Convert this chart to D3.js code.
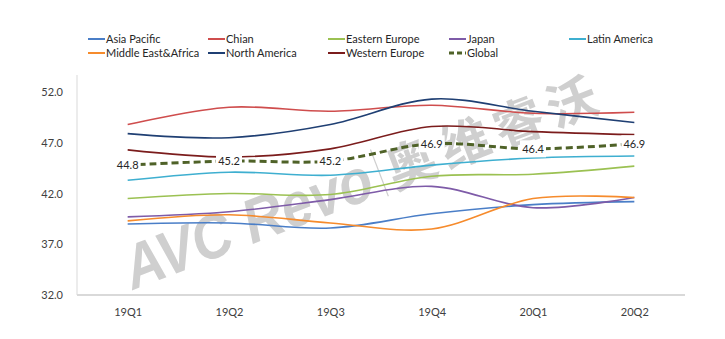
<!DOCTYPE html>
<html>
<head>
<meta charset="utf-8">
<script src="https://cdn.jsdelivr.net/npm/d3@7"></script>
<style>
  html, body { margin: 0; padding: 0; background: #ffffff; }
  svg { display: block; }
</style>
</head>
<body>
<svg id="chart" width="725" height="339"></svg>
<script>
// Quarterly index by region
const quarters = ["19Q1", "19Q2", "19Q3", "19Q4", "20Q1", "20Q2"];
const asiaPacific   = [39.0, 39.1, 38.6, 40.0, 40.9, 41.2];
const chian         = [48.8, 50.5, 50.1, 50.7, 49.9, 50.0];
const easternEurope = [41.5, 42.0, 41.9, 43.7, 43.9, 44.7];
const japan         = [39.7, 40.2, 41.4, 42.7, 40.6, 41.6];
const latinAmerica  = [43.3, 44.1, 43.8, 44.8, 45.5, 45.7];
const middleEast    = [39.3, 39.9, 39.1, 38.5, 41.5, 41.6];
const northAmerica  = [47.9, 47.5, 48.8, 51.3, 50.1, 49.0];
const westernEurope = [46.3, 45.6, 46.4, 48.6, 48.1, 47.8];
const globalAvg     = [44.8, 45.2, 45.2, 46.9, 46.4, 46.9];
const yTicks = [32, 37, 42, 47, 52];

const series = [
  { name: "Asia Pacific",       values: asiaPacific,   color: "#4a7ec7" },
  { name: "Chian",              values: chian,         color: "#cf4d4d" },
  { name: "Eastern Europe",     values: easternEurope, color: "#9bc152" },
  { name: "Japan",              values: japan,         color: "#7e5ba8" },
  { name: "Latin America",      values: latinAmerica,  color: "#3eafd0" },
  { name: "Middle East&Africa", values: middleEast,    color: "#f68b2c" },
  { name: "North America",      values: northAmerica,  color: "#1f3f73" },
  { name: "Western Europe",     values: westernEurope, color: "#7b1c1c" },
  { name: "Global",             values: globalAvg,     color: "#4f6228", dashed: true }
];

const svg = d3.select("#chart");
const font = "Lato, 'Liberation Sans', sans-serif";

const plotLeft = 77, plotRight = 685, plotTop = 92, plotBottom = 295;
const x = d3.scalePoint().domain(quarters).range([plotLeft, plotRight]).padding(0.5);
const y = d3.scaleLinear().domain([32, 52]).range([plotBottom, plotTop]);

// Watermark
const wm = svg.append("g")
  .attr("transform", "translate(133,290) rotate(-21)")
  .attr("fill", "#cfcfcf");
wm.append("text")
  .attr("x", 0).attr("y", 0)
  .attr("font-family", "'Liberation Sans', Arial, sans-serif")
  .attr("font-weight", "bold").attr("font-style", "italic")
  .attr("font-size", 62)
  .attr("textLength", 262).attr("lengthAdjust", "spacingAndGlyphs")
  .text("AVC Revo");
wm.append("line")
  .attr("x1", 272).attr("x2", 272).attr("y1", 4).attr("y2", -46)
  .attr("stroke", "#cfcfcf").attr("stroke-width", 1.2);
wm.append("text")
  .attr("x", 280).attr("y", 0)
  .attr("font-family", "'Noto Sans CJK SC', sans-serif")
  .attr("font-weight", "bold")
  .attr("font-size", 50)
  .attr("textLength", 222).attr("lengthAdjust", "spacing")
  .text("奥维睿沃");

// Axis frame lines
svg.append("line")
  .attr("x1", plotLeft).attr("x2", plotLeft).attr("y1", 75).attr("y2", plotBottom)
  .attr("stroke", "#d9d9d9").attr("stroke-width", 1);
svg.append("line")
  .attr("x1", plotLeft).attr("x2", plotRight).attr("y1", plotBottom).attr("y2", plotBottom)
  .attr("stroke", "#d9d9d9").attr("stroke-width", 2);

// Y axis labels
const yAxis = d3.axisLeft(y).tickValues(yTicks).tickFormat(d3.format(".1f")).tickSize(0).tickPadding(0);
const yg = svg.append("g").attr("transform", "translate(63,0)").call(yAxis);
yg.select(".domain").remove();
yg.selectAll("text")
  .attr("font-family", font).attr("font-size", 11).attr("fill", "#404040");

// X axis labels
const xAxis = d3.axisBottom(x).tickSize(0).tickPadding(0);
const xg = svg.append("g").attr("transform", "translate(0,308)").call(xAxis);
xg.select(".domain").remove();
xg.selectAll("text")
  .attr("font-family", font).attr("font-size", 11).attr("fill", "#404040");

// Series lines
const line = d3.line()
  .x((d, i) => x(quarters[i]))
  .y(d => y(d))
  .curve(d3.curveCatmullRom.alpha(0));

const lineG = svg.append("g");
series.forEach(s => {
  lineG.append("path")
    .datum(s.values)
    .attr("d", line)
    .attr("fill", "none")
    .attr("stroke", s.color)
    .attr("stroke-width", s.dashed ? 3 : 1.6)
    .attr("stroke-dasharray", s.dashed ? "7,4" : null);
});

// Global value labels
const labelG = svg.append("g");
globalAvg.forEach((v, i) => {
  const cx = x(quarters[i]), cy = y(v);
  labelG.append("rect")
    .attr("x", cx - 13).attr("y", cy - 8.5)
    .attr("width", 26).attr("height", 17)
    .attr("fill", "#ffffff");
  labelG.append("text")
    .attr("x", cx).attr("y", cy + 4)
    .attr("text-anchor", "middle")
    .attr("font-family", font).attr("font-size", 11)
    .attr("fill", "#262626")
    .text(d3.format(".1f")(v));
});

// Legend
const legendCols = [88, 208, 328, 449, 569];
const legendRows = [39, 53];
const legend = svg.append("g");
series.forEach((s, i) => {
  const lx = legendCols[i % 5], ly = legendRows[Math.floor(i / 5)];
  legend.append("line")
    .attr("x1", lx).attr("x2", lx + 17).attr("y1", ly).attr("y2", ly)
    .attr("stroke", s.color)
    .attr("stroke-width", s.dashed ? 3 : 2)
    .attr("stroke-dasharray", s.dashed ? "5,3" : null);
  legend.append("text")
    .attr("x", lx + 18).attr("y", ly + 4)
    .attr("font-family", font).attr("font-size", 11)
    .attr("fill", "#262626")
    .text(s.name);
});
</script>
</body>
</html>
